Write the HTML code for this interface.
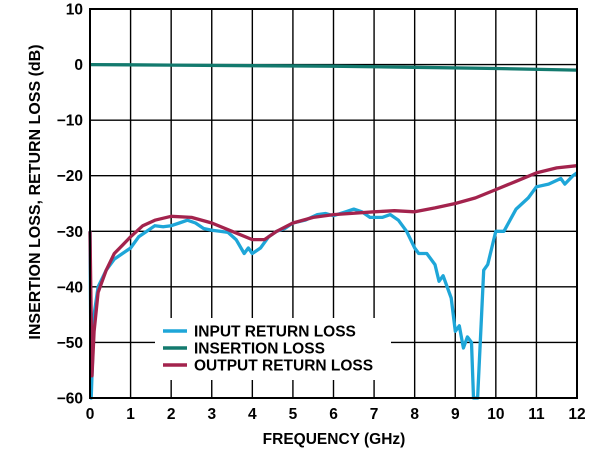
<!DOCTYPE html>
<html><head><meta charset="utf-8"><style>
body{margin:0;background:#fff;}
svg text{font-family:"Liberation Sans",Arial,sans-serif;font-weight:bold;fill:#000;}
</style></head><body>
<svg width="600" height="452" viewBox="0 0 600 452">
<g id="grid"></g>
<rect x="155" y="318" width="236" height="62" fill="#fff"/>
<g id="series"></g>
<rect x="90" y="9" width="487" height="389" fill="none" stroke="#000" stroke-width="2"/>
<g id="ticks"></g>
<text x="334" y="444" font-size="15.5" text-anchor="middle">FREQUENCY (GHz)</text>
<text transform="translate(40,192) rotate(-90)" font-size="16" text-anchor="middle">INSERTION LOSS, RETURN LOSS (dB)</text>
<g>
<line x1="163" y1="331" x2="187" y2="331" stroke="#1ea6d8" stroke-width="3.5"/>
<text x="194" y="336.5" font-size="15.5">INPUT RETURN LOSS</text>
<line x1="163" y1="348" x2="187" y2="348" stroke="#137a6e" stroke-width="3.5"/>
<text x="194" y="353.5" font-size="15.5">INSERTION LOSS</text>
<line x1="163" y1="365" x2="187" y2="365" stroke="#a3234d" stroke-width="3.5"/>
<text x="194" y="370.5" font-size="15.5">OUTPUT RETURN LOSS</text>
</g>
</svg>
<script>
const xTicks=[0,1,2,3,4,5,6,7,8,9,10,11,12];
const yTicks=[10,0,-10,-20,-30,-40,-50,-60];
const inputFreq=[0,0.03,0.1,0.2,0.4,0.6,0.8,1,1.2,1.4,1.6,1.8,2,2.2,2.4,2.6,2.8,3,3.2,3.4,3.6,3.8,3.9,4,4.2,4.4,4.6,4.8,5,5.3,5.6,5.8,6,6.3,6.5,6.7,6.9,7.2,7.4,7.6,7.8,8,8.1,8.3,8.5,8.6,8.7,8.9,9,9.1,9.2,9.3,9.4,9.45,9.55,9.65,9.7,9.8,10,10.2,10.5,10.8,11,11.3,11.6,11.7,11.9,12];
const inputLoss=[-30,-60,-45,-40,-37,-35,-34,-33,-31,-30,-29,-29.2,-29,-28.5,-28,-28.5,-29.5,-29.8,-30,-30.2,-31.5,-34,-33,-34,-33,-31,-30,-29.5,-28.5,-28,-27,-26.8,-27.2,-26.5,-26,-26.5,-27.5,-27.5,-27,-28,-30,-33,-34,-34,-36,-39,-38,-42,-48,-47,-51,-49,-50,-60,-60,-45,-37,-36,-30,-30,-26,-24,-22,-21.5,-20.5,-21.5,-20,-19.5];
const outputFreq=[0,0.05,0.1,0.2,0.4,0.6,0.8,1,1.3,1.6,2,2.5,3,3.5,4,4.3,4.6,5,5.5,6,7,7.5,8,8.5,9,9.5,10,10.5,11,11.5,12];
const outputLoss=[-30,-56,-48,-41,-37,-34,-32.5,-31,-29,-28,-27.3,-27.5,-28.5,-30,-31.5,-31.5,-30,-28.5,-27.5,-27,-26.5,-26.3,-26.5,-25.8,-25,-24,-22.5,-21,-19.5,-18.6,-18.2];
const insFreq=[0,2,4,6,8,10,12];
const insLoss=[0,-0.1,-0.2,-0.3,-0.5,-0.7,-1.0];
const X0=90,X1=577,Y0=9,Y1=398;
const sx=f=>X0+(f-0)/(12-0)*(X1-X0);
const sy=v=>Y0+(10-v)/(70)*(Y1-Y0);
const NS='http://www.w3.org/2000/svg';
const grid=document.getElementById('grid'),ticks=document.getElementById('ticks'),series=document.getElementById('series');
xTicks.forEach(t=>{
 const l=document.createElementNS(NS,'line');
 
 
 l.setAttribute('x1',sx(t));l.setAttribute('x2',sx(t));l.setAttribute('y1',Y0);l.setAttribute('y2',Y1);
 l.setAttribute('stroke','#000');l.setAttribute('stroke-width','1.4');grid.appendChild(l);
 const tx=document.createElementNS(NS,'text');
 
 
 tx.setAttribute('x',sx(t));tx.setAttribute('y',419);tx.setAttribute('font-size','15.5');tx.setAttribute('text-anchor','middle');
 tx.textContent=t;ticks.appendChild(tx);
});
yTicks.forEach(t=>{
 const l=document.createElementNS(NS,'line');
 
 
 l.setAttribute('x1',X0);l.setAttribute('x2',X1);l.setAttribute('y1',sy(t));l.setAttribute('y2',sy(t));
 l.setAttribute('stroke','#000');l.setAttribute('stroke-width','1.4');grid.appendChild(l);
 const tx=document.createElementNS(NS,'text');
 
 
 tx.setAttribute('x',83);tx.setAttribute('y',sy(t)+5.5);tx.setAttribute('font-size','15.5');tx.setAttribute('text-anchor','end');
 tx.textContent=(t<0?'\u2212'+(-t):t);ticks.appendChild(tx);
});
function addLine(fs,vs,color,name){
 const p=document.createElementNS(NS,'polyline');
 
 
 p.setAttribute('points',fs.map((f,i)=>sx(f).toFixed(1)+','+sy(vs[i]).toFixed(1)).join(' '));
 p.setAttribute('fill','none');p.setAttribute('stroke',color);p.setAttribute('stroke-width','3.3');p.setAttribute('stroke-linejoin','round');
 series.appendChild(p);
}
addLine(insFreq,insLoss,'#137a6e','insertion-loss-line');
addLine(inputFreq,inputLoss,'#1ea6d8','input-return-loss-line');
addLine(outputFreq,outputLoss,'#a3234d','output-return-loss-line');
</script>
</body></html>
